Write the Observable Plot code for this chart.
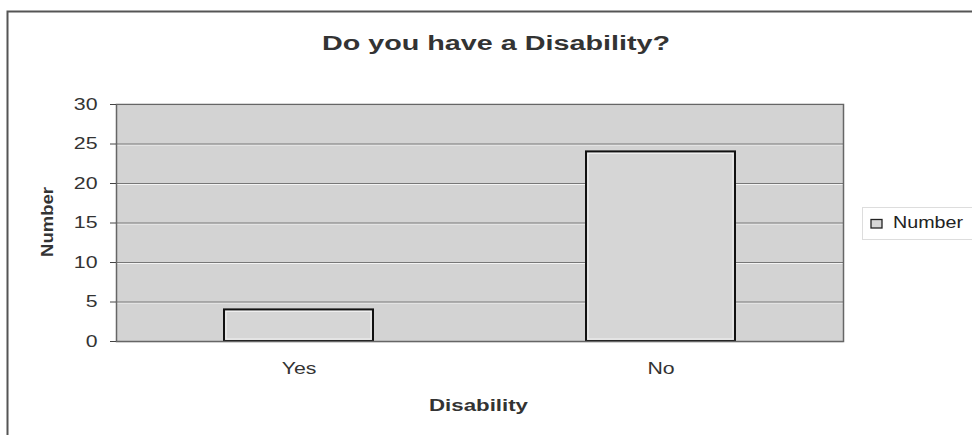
<!DOCTYPE html>
<html>
<head>
<meta charset="utf-8">
<script src="https://cdn.jsdelivr.net/npm/d3@7"></script>
<script src="https://cdn.jsdelivr.net/npm/@observablehq/plot@0.6"></script>
<style>
  html, body { margin: 0; padding: 0; background: #fff; }
  #chart { position: relative; width: 972px; height: 435px; }
</style>
</head>
<body>
<div id="chart"></div>
<script>
const categories = ["Yes", "No"];
const values = [4, 24];
const yTicks = [0, 5, 10, 15, 20, 25, 30];
const title = "Do you have a Disability?";
const xLabel = "Disability";
const yLabel = "Number";
const seriesName = "Number";

const data = categories.map((c, i) => ({category: c, value: values[i]}));
const font = "Liberation Sans, Arial, sans-serif";

const plot = Plot.plot({
  width: 972,
  height: 435,
  marginLeft: 116,
  marginRight: 129,
  marginTop: 104,
  marginBottom: 94,
  style: {fontFamily: font, fontSize: "16px", color: "#333", background: "#fff"},
  x: {domain: categories, paddingInner: 0.588, paddingOuter: 0.298, label: null},
  y: {domain: [0, 30], ticks: yTicks, label: null},
  marks: [
    Plot.frame({fill: "#d3d3d3", stroke: "none"}),
    Plot.gridY(yTicks, {stroke: "#f4f4f4", strokeOpacity: 1, strokeWidth: 1, dy: 1}),
    Plot.gridY(yTicks, {stroke: "#777", strokeOpacity: 1, strokeWidth: 1}),
    Plot.barY(data, {x: "category", y: "value", fill: "#d6d6d6", stroke: "#111", strokeWidth: 2}),
    Plot.barY(data, {x: "category", y: "value", fill: "none", stroke: "#f2f2f2", strokeWidth: 1, inset: 2}),
    Plot.frame({stroke: "#666", strokeWidth: 1.5}),
    Plot.axisY({ticks: yTicks, tickSize: 6, tickPadding: 13, stroke: "#444", fontSize: 16, label: null}),
    Plot.axisX({tickSize: 0, tickPadding: 21, fontSize: 16, label: null})
  ]
});

document.getElementById("chart").appendChild(plot);
const svg = d3.select(plot);

// widen Plot's tick labels to match the reference's wide lettering
svg.selectAll("g[aria-label$='tick label'] text").each(function() {
  const len = this.getComputedTextLength();
  this.setAttribute("textLength", (len * 1.33).toFixed(1));
  this.setAttribute("lengthAdjust", "spacingAndGlyphs");
});

function label(sel, txt, attrs, len) {
  const t = sel.append("text").text(txt)
    .attr("font-family", font).attr("fill", "#333");
  for (const k in attrs) t.attr(k, attrs[k]);
  if (len) t.attr("textLength", len).attr("lengthAdjust", "spacingAndGlyphs");
  return t;
}

// outer chart border
svg.append("path").attr("d", "M7.5,435 L7.5,11.5 L972,11.5")
  .attr("fill", "none").attr("stroke", "#555").attr("stroke-width", 2);
// title
label(svg, title, {x: 322, y: 50, "text-anchor": "start", "font-size": 20, "font-weight": "bold"}, 348);
// y label
label(svg, yLabel, {transform: "translate(53,257) rotate(-90)", "text-anchor": "start", "font-size": 17, "font-weight": "bold"}, 70);
// x label
label(svg, xLabel, {x: 429, y: 411, "text-anchor": "start", "font-size": 17, "font-weight": "bold"}, 99);
// legend
const lg = svg.append("g");
lg.append("rect").attr("x", 862.5).attr("y", 207.5).attr("width", 115).attr("height", 32)
  .attr("fill", "#fff").attr("stroke", "#ddd").attr("stroke-width", 1);
lg.append("rect").attr("x", 871).attr("y", 219.5).attr("width", 11).attr("height", 8.5)
  .attr("fill", "#d6d6d6").attr("stroke", "#222").attr("stroke-width", 1.3);
label(lg, seriesName, {x: 893, y: 228, "text-anchor": "start", "font-size": 17, fill: "#222"}, 70);
</script>
</body>
</html>
